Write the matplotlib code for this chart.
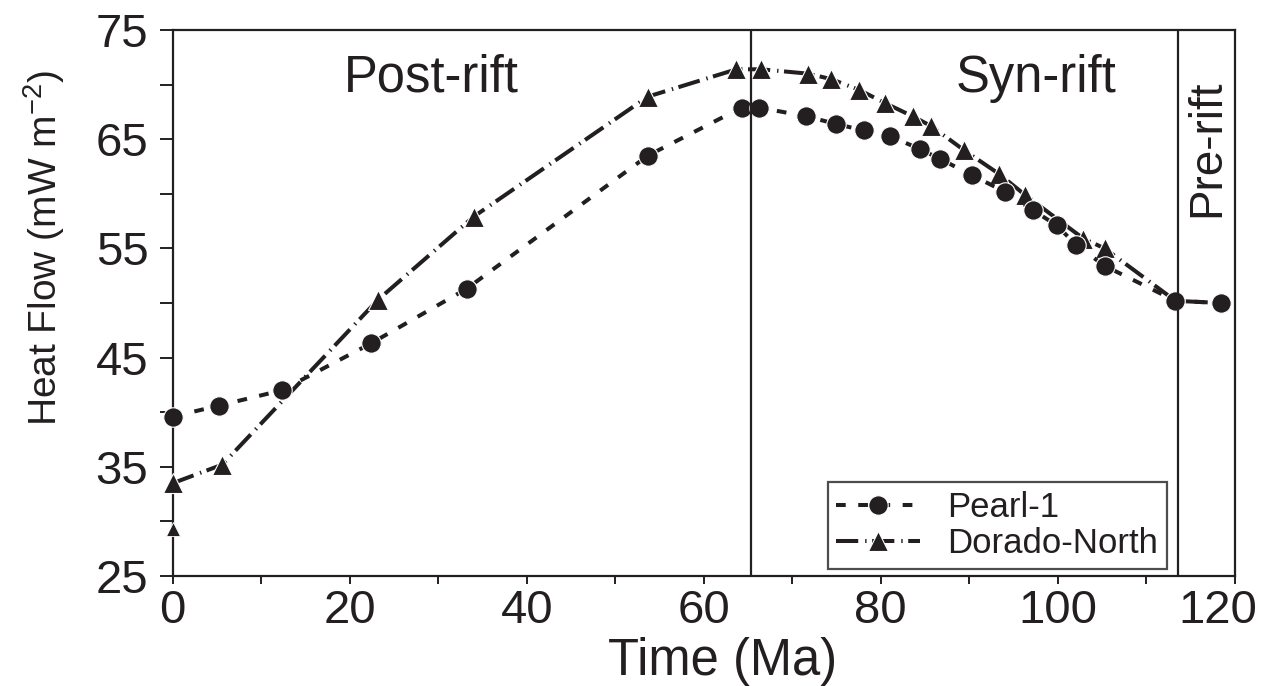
import matplotlib
matplotlib.use("Agg")
import matplotlib.pyplot as plt
from matplotlib.transforms import ScaledTranslation

plt.rcParams['font.family'] = ['Liberation Sans', 'DejaVu Sans']
plt.rcParams['mathtext.fontset'] = 'custom'
plt.rcParams['mathtext.rm'] = 'Liberation Sans'
plt.rcParams['mathtext.it'] = 'Liberation Sans:italic'
plt.rcParams['lines.scale_dashes'] = False

INK = '#231f20'

# Pearl-1 heat flow history
time_pearl = [0, 5.2, 12.3, 22.4, 33.2, 53.7, 64.3, 66.2, 71.6, 74.9, 78.1, 81.0,
              84.4, 86.7, 90.3, 94.0, 97.2, 99.9, 102.1, 105.3, 113.3, 118.5]
hf_pearl = [39.6, 40.6, 42.0, 46.3, 51.3, 63.5, 67.9, 67.9, 67.1, 66.4, 65.8, 65.3,
            64.1, 63.2, 61.7, 60.2, 58.5, 57.1, 55.3, 53.4, 50.2, 50.0]

# Dorado-North heat flow history
time_dorado = [0, 5.6, 23.2, 34.0, 53.7, 63.7, 66.5, 71.8, 74.4, 77.6, 80.5, 83.6,
               85.7, 89.4, 93.4, 96.3, 102.9, 105.3, 113.3, 118.5]
hf_dorado = [33.5, 35.2, 50.3, 57.9, 68.9, 71.4, 71.4, 71.0, 70.5, 69.5, 68.3, 67.1,
             66.2, 64.0, 61.8, 59.9, 55.9, 55.0, 50.2, 50.0]

# present-day value shown at t = 0
time_present = [0]
hf_present = [29.3]

# tectonic phase boundaries (Ma) and labels
phase_bounds = [65.3, 113.6]
phase_names = ['Post-rift', 'Syn-rift', 'Pre-rift']

fig = plt.figure(figsize=(12.69, 6.86), dpi=100)
ax = fig.add_axes([0.1361, 0.1603, 0.8369, 0.796])

ax.plot(time_dorado, hf_dorado, color=INK, lw=2.9, dashes=(16, 5, 1, 4),
        marker='^', ms=15, mfc=INK, mec='white', mew=0.8,
        markevery=list(range(len(time_dorado) - 2)),
        clip_on=False, zorder=3, label='Dorado-North')
ax.plot(time_pearl, hf_pearl, color=INK, lw=2.9, dashes=(7, 9),
        marker='o', ms=14, mfc=INK, mec='white', mew=0.8,
        clip_on=False, zorder=4, label='Pearl-1')
ax.plot(time_present, hf_present, linestyle='none', marker='^', ms=10,
        mfc=INK, mec='white', mew=0.6, clip_on=False, zorder=3)

for xb in phase_bounds:
    ax.axvline(xb, color=INK, lw=1.6, zorder=5)

ax.text(29.2, 70.6, phase_names[0], fontsize=36.5, color=INK, ha='center', va='center')
ax.text(97.5, 70.6, phase_names[1], fontsize=36.5, color=INK, ha='center', va='center')
ax.text(116.9, 64.2, phase_names[2], fontsize=33, color=INK, ha='center', va='center',
        rotation=90)

ax.set_xlim(0, 120)
ax.set_ylim(25, 75)
ax.set_xticks(range(0, 121, 20))
ax.set_xticks(range(10, 120, 20), minor=True)
ax.set_yticks(range(25, 76, 10))
ax.set_yticks(range(30, 71, 10), minor=True)

ax.tick_params(axis='x', which='both', direction='out', length=5.5, width=1.4,
               color=INK, labelsize=34, labelcolor=INK, pad=4)
ax.tick_params(axis='y', which='both', direction='out', length=9.5, width=1.4,
               color=INK, labelsize=34, labelcolor=INK, pad=8)
for sp in ax.spines.values():
    sp.set_linewidth(1.6)
    sp.set_color(INK)

# last x label sits left of its tick so it stays inside the figure
fig.canvas.draw()
last = ax.get_xticklabels()[-1]
last.set_transform(last.get_transform() + ScaledTranslation(-0.17, 0, fig.dpi_scale_trans))

ax.set_xlabel('Time (Ma)', fontsize=36.5, color=INK)
ax.set_ylabel('Heat Flow (mW m$^{-2}$)', fontsize=28, color=INK)
ax.xaxis.set_label_coords(0.518, -0.112)
ax.yaxis.set_label_coords(-0.100, 0.600)

handles, labels = ax.get_legend_handles_labels()
leg = ax.legend(handles[::-1], labels[::-1], loc='lower right',
                bbox_to_anchor=(0.9363, 0.0128), borderaxespad=0,
                fontsize=25, frameon=True, fancybox=False, handlelength=2.4,
                handletextpad=0.8, labelspacing=0.1, borderpad=0.25)
leg.get_frame().set_edgecolor(INK)
leg.get_frame().set_linewidth(1.6)
for t in leg.get_texts():
    t.set_color(INK)

fig.savefig('out.png', dpi=100)
